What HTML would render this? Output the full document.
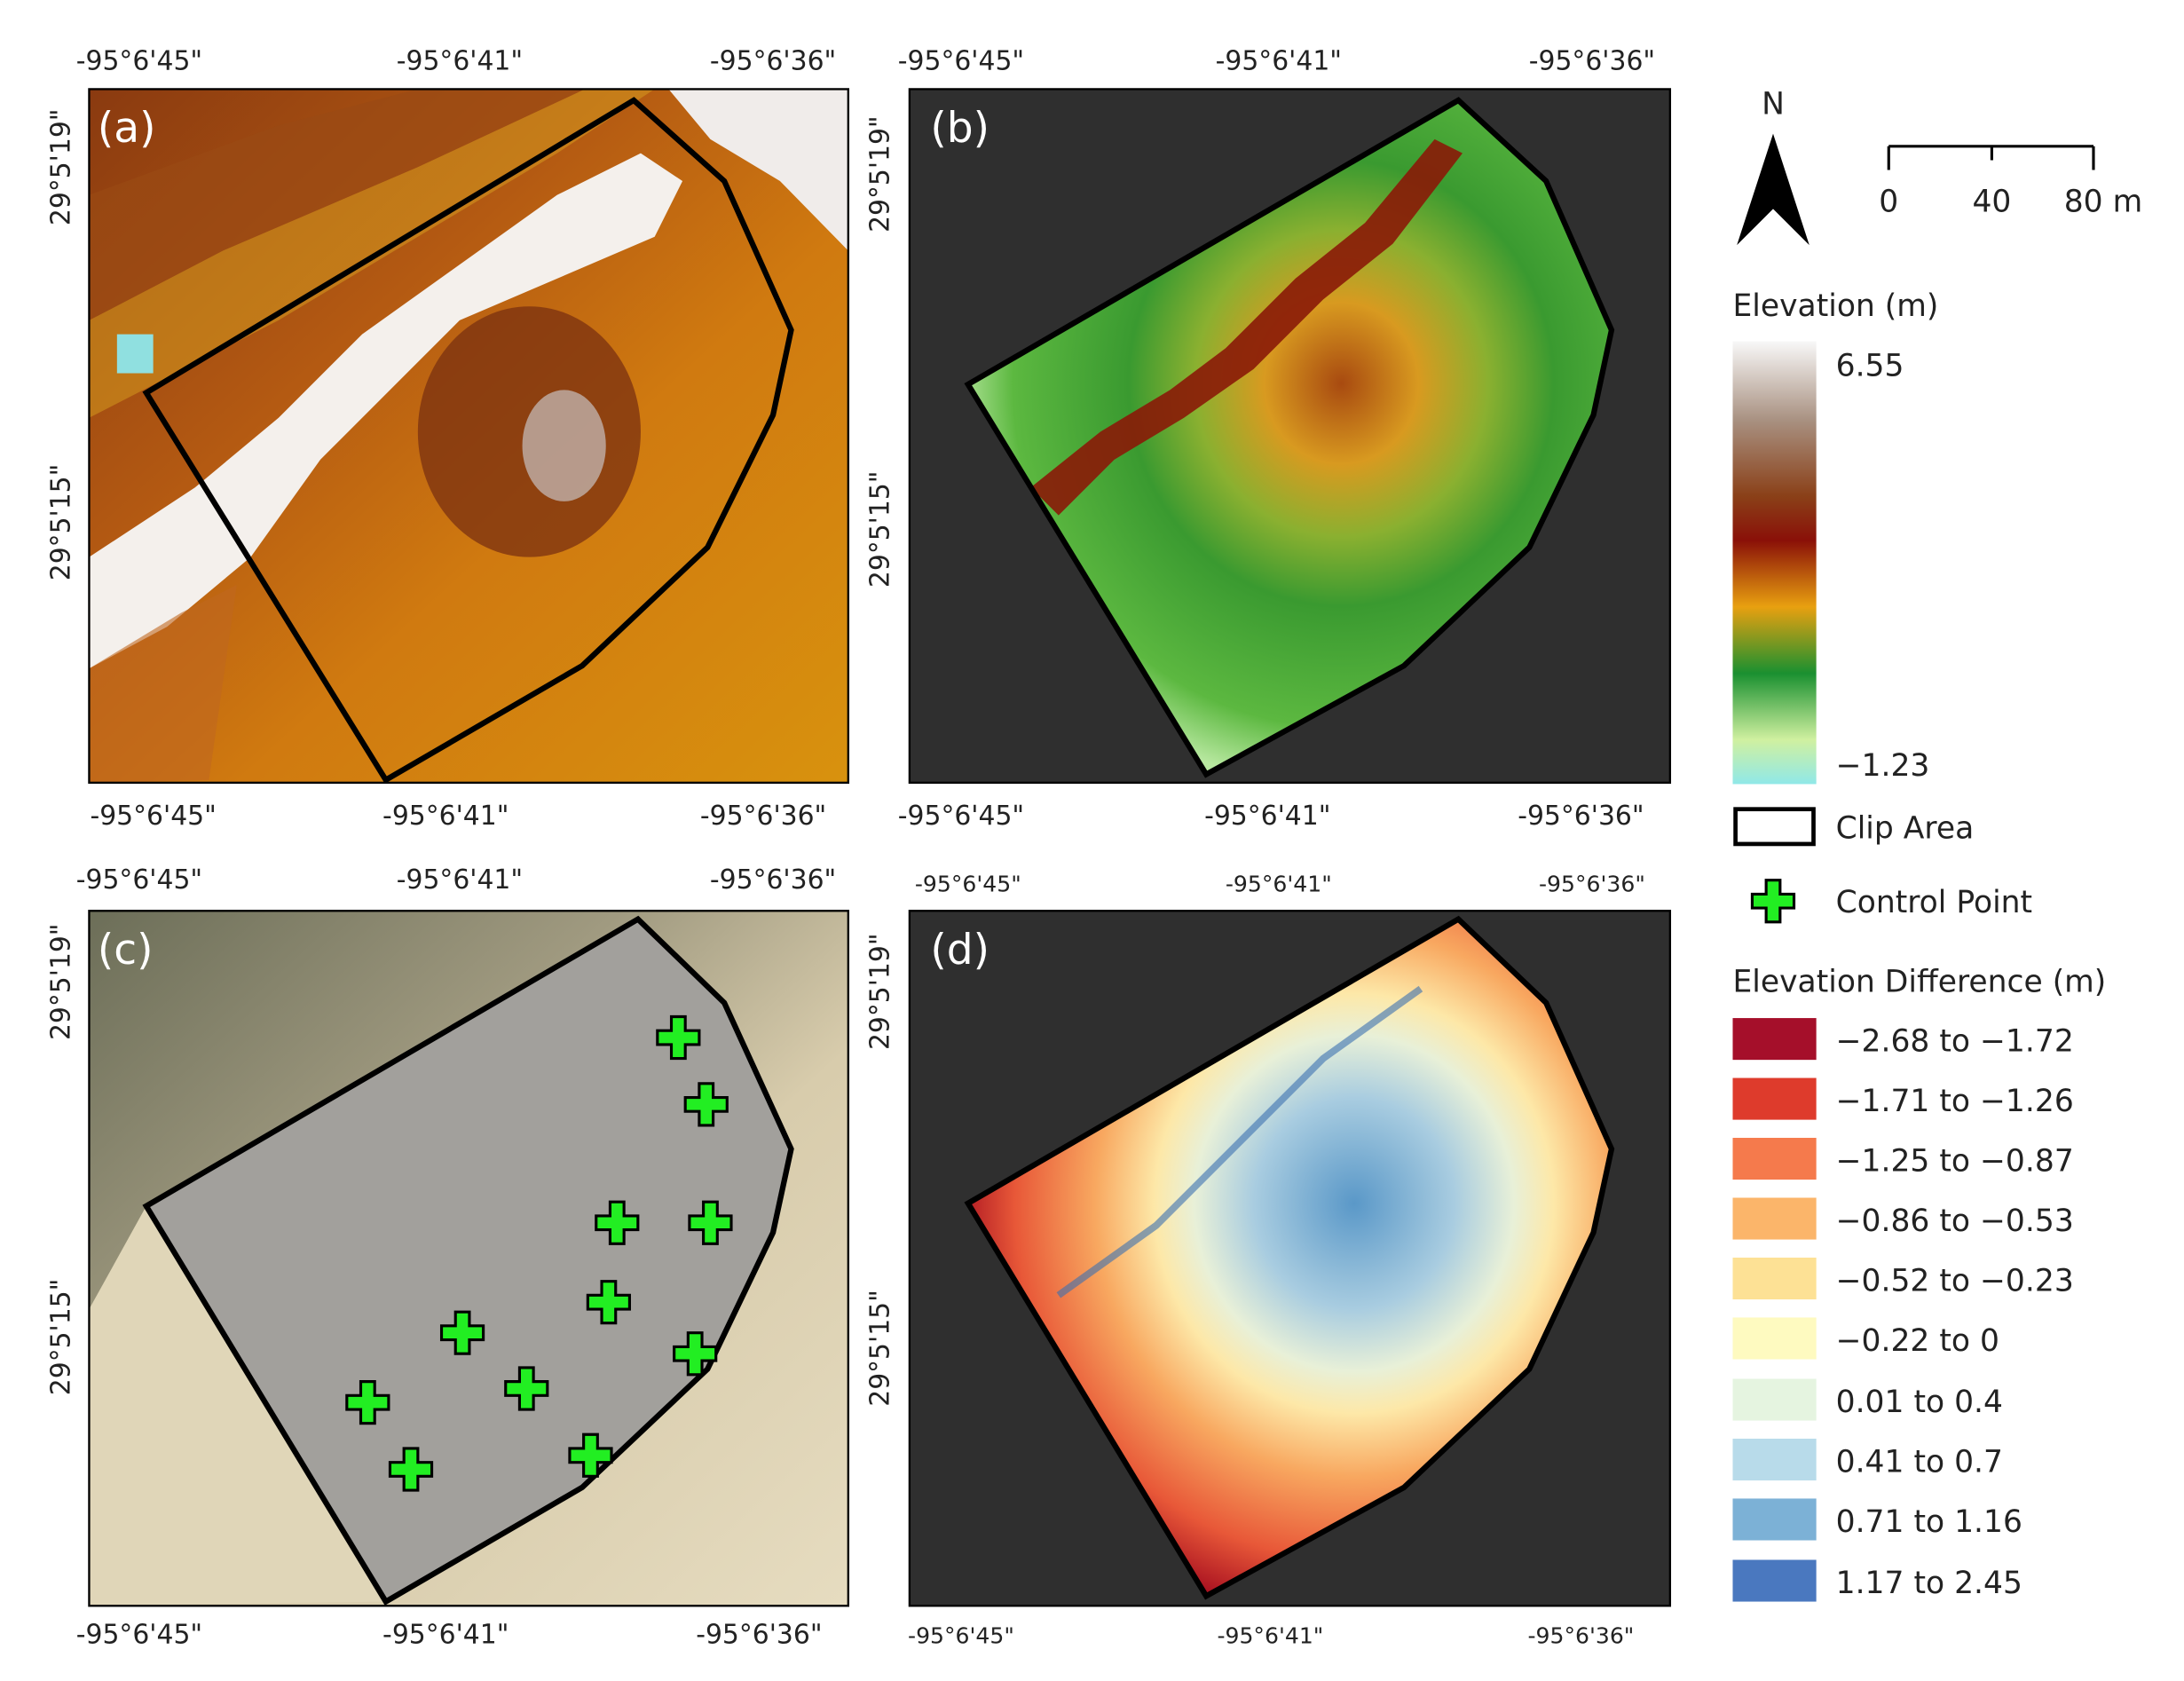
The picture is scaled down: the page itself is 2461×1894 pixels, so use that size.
<!DOCTYPE html>
<html><head><meta charset="utf-8"><style>
html,body{margin:0;padding:0;background:#fff}
svg{display:block}
text{font-family:"DejaVu Sans","Liberation Sans",sans-serif;fill:#222}
</style></head><body>
<svg width="2461" height="1894" viewBox="0 0 1568 1207" preserveAspectRatio="none" xmlns="http://www.w3.org/2000/svg">
<defs>
<linearGradient id="gA" x1="0" y1="0" x2="1" y2="1">
<stop offset="0" stop-color="#8a3a10"/><stop offset="0.35" stop-color="#b45a12"/><stop offset="0.6" stop-color="#d07a10"/><stop offset="1" stop-color="#d8920e"/></linearGradient>
<radialGradient id="gB" cx="0.58" cy="0.42" r="0.6">
<stop offset="0" stop-color="#a84a10"/><stop offset="0.2" stop-color="#d89a20"/><stop offset="0.38" stop-color="#8ab030"/><stop offset="0.55" stop-color="#3a9a30"/><stop offset="0.85" stop-color="#5cb840"/><stop offset="1" stop-color="#b8e8a0"/></radialGradient>
<radialGradient id="gD" cx="0.6" cy="0.42" r="0.62">
<stop offset="0" stop-color="#5a98c8"/><stop offset="0.25" stop-color="#a8cce0"/><stop offset="0.4" stop-color="#e8f0d8"/><stop offset="0.5" stop-color="#fde8a8"/><stop offset="0.65" stop-color="#f8a860"/><stop offset="0.85" stop-color="#e85838"/><stop offset="1" stop-color="#a81020"/></radialGradient>
<linearGradient id="gE" x1="0" y1="0" x2="0" y2="1">
<stop offset="0" stop-color="#f8f8f8"/><stop offset="0.18" stop-color="#a89080"/><stop offset="0.35" stop-color="#8a4018"/><stop offset="0.45" stop-color="#8a1008"/><stop offset="0.6" stop-color="#e8a010"/><stop offset="0.75" stop-color="#1a9030"/><stop offset="0.9" stop-color="#d0f0a0"/><stop offset="1" stop-color="#90e8e8"/></linearGradient>
<linearGradient id="gC" x1="0" y1="0" x2="1" y2="1">
<stop offset="0" stop-color="#6c6e58"/><stop offset="0.35" stop-color="#a09a80"/><stop offset="0.6" stop-color="#d8ccac"/><stop offset="1" stop-color="#e6dcc0"/></linearGradient>
</defs>

<!-- panel a -->
<rect x="64" y="64" width="545" height="498" fill="url(#gA)"/>
<path d="M64,140 L200,90 L300,64 L420,64 L300,120 L160,180 L64,230Z" fill="#9a4a14" opacity="0.7"/>
<path d="M64,230 L160,180 L300,120 L420,64 L470,64 L400,110 L300,170 L200,230 L64,300Z" fill="#d8a020" opacity="0.5"/>
<path d="M64,400 L140,350 L200,300 L260,240 L330,190 L400,140 L460,110 L490,130 L470,170 L400,200 L330,230 L280,280 L230,330 L180,400 L120,450 L64,480Z" fill="#f4f0ec"/>
<path d="M480,64 L609,64 L609,180 L560,130 L510,100Z" fill="#f0ecea"/>
<path d="M64,480 L130,440 L170,420 L150,560 L64,562Z" fill="#c06820" opacity="0.6"/>
<rect x="84" y="240" width="26" height="28" fill="#90e0e0"/>
<ellipse cx="380" cy="310" rx="80" ry="90" fill="#7a3010" opacity="0.75"/>
<ellipse cx="405" cy="320" rx="30" ry="40" fill="#c8c0c0" opacity="0.7"/>
<polygon points="455,72 520,130 568,237 555,298 508,393 418,478 277,560 105,282" fill="none" stroke="#000" stroke-width="4"/>
<rect x="64" y="64" width="545" height="498" fill="none" stroke="#000" stroke-width="1.5"/>
<text x="70" y="102" font-size="30" style="fill:#fff">(a)</text>

<!-- panel b -->
<rect x="653" y="64" width="546" height="498" fill="#2f2f2f"/>
<polygon points="1047,72 1110,130 1157,237 1144,298 1098,393 1008,478 866,556 695,276" fill="url(#gB)"/>
<path d="M740,350 L790,310 L840,280 L880,250 L930,200 L980,160 L1030,100 L1050,110 L1000,175 L950,215 L900,265 L850,300 L800,330 L760,370Z" fill="#8a1a08" opacity="0.9"/>
<polygon points="1047,72 1110,130 1157,237 1144,298 1098,393 1008,478 866,556 695,276" fill="none" stroke="#000" stroke-width="4"/>
<rect x="653" y="64" width="546" height="498" fill="none" stroke="#000" stroke-width="1.5"/>
<text x="668" y="102" font-size="30" style="fill:#fff">(b)</text>

<!-- panel c -->
<rect x="64" y="654" width="545" height="499" fill="url(#gC)"/>
<path d="M64,940 L105,866 L200,1020 L277,1150 L64,1153Z" fill="#e0d6b8"/>
<polygon points="458,660 520,720 568,825 555,885 508,983 418,1068 277,1150 105,866" fill="#a2a09c"/>
<polygon points="458,660 520,720 568,825 555,885 508,983 418,1068 277,1150 105,866" fill="none" stroke="#000" stroke-width="4"/>
<rect x="64" y="654" width="545" height="499" fill="none" stroke="#000" stroke-width="1.5"/>
<text x="70" y="692" font-size="30" style="fill:#fff">(c)</text>
<g fill="#22ee22" stroke="#000" stroke-width="2">
<path id="cp" d="M-5,-15h10v10h10v10h-10v10h-10v-10h-10v-10h10z" transform="translate(487,745)"/>
<use href="#cp" transform="translate(20,48)"/>
<use href="#cp" transform="translate(-44,133)"/>
<use href="#cp" transform="translate(23,133)"/>
<use href="#cp" transform="translate(-50,190)"/>
<use href="#cp" transform="translate(-155,212)"/>
<use href="#cp" transform="translate(12,227)"/>
<use href="#cp" transform="translate(-109,252)"/>
<use href="#cp" transform="translate(-223,262)"/>
<use href="#cp" transform="translate(-63,300)"/>
<use href="#cp" transform="translate(-192,310)"/>
</g>

<!-- panel d -->
<rect x="653" y="654" width="546" height="499" fill="#2f2f2f"/>
<polygon points="1047,660 1110,720 1157,825 1144,885 1098,983 1008,1068 866,1146 695,864" fill="url(#gD)"/>
<path d="M760,930 L830,880 L890,820 L950,760 L1020,710" stroke="#3a70b0" stroke-width="5" fill="none" opacity="0.6"/>
<polygon points="1047,660 1110,720 1157,825 1144,885 1098,983 1008,1068 866,1146 695,864" fill="none" stroke="#000" stroke-width="4"/>
<rect x="653" y="654" width="546" height="499" fill="none" stroke="#000" stroke-width="1.5"/>
<text x="668" y="692" font-size="30" style="fill:#fff">(d)</text>

<!-- tick labels -->
<g font-size="19" text-anchor="middle">
<text x="100" y="50">-95°6'45"</text><text x="330" y="50">-95°6'41"</text><text x="555" y="50">-95°6'36"</text>
<text x="110" y="592">-95°6'45"</text><text x="320" y="592">-95°6'41"</text><text x="548" y="592">-95°6'36"</text>
<text x="690" y="50">-95°6'45"</text><text x="918" y="50">-95°6'41"</text><text x="1143" y="50">-95°6'36"</text>
<text x="690" y="592">-95°6'45"</text><text x="910" y="592">-95°6'41"</text><text x="1135" y="592">-95°6'36"</text>
<text x="100" y="638">-95°6'45"</text><text x="330" y="638">-95°6'41"</text><text x="555" y="638">-95°6'36"</text>
<text x="100" y="1180">-95°6'45"</text><text x="320" y="1180">-95°6'41"</text><text x="545" y="1180">-95°6'36"</text>
<text x="695" y="640" font-size="16">-95°6'45"</text><text x="918" y="640" font-size="16">-95°6'41"</text><text x="1143" y="640" font-size="16">-95°6'36"</text>
<text x="690" y="1180" font-size="16">-95°6'45"</text><text x="912" y="1180" font-size="16">-95°6'41"</text><text x="1135" y="1180" font-size="16">-95°6'36"</text>
<text transform="translate(50,120) rotate(-90)">29°5'19"</text>
<text transform="translate(50,375) rotate(-90)">29°5'15"</text>
<text transform="translate(638,125) rotate(-90)">29°5'19"</text>
<text transform="translate(638,380) rotate(-90)">29°5'15"</text>
<text transform="translate(50,705) rotate(-90)">29°5'19"</text>
<text transform="translate(50,960) rotate(-90)">29°5'15"</text>
<text transform="translate(638,712) rotate(-90)">29°5'19"</text>
<text transform="translate(638,968) rotate(-90)">29°5'15"</text>
</g>

<!-- north arrow & scale -->
<text x="1273" y="82" font-size="22" text-anchor="middle" font-family="Liberation Serif">N</text>
<polygon points="1273,96 1299,176 1273,150 1247,176" fill="#000"/>
<path d="M1356,122V105M1356,105H1503M1430,105V115M1503,105V122" stroke="#000" stroke-width="2" fill="none"/>
<g font-size="22" text-anchor="middle"><text x="1356" y="152">0</text><text x="1430" y="152">40</text><text x="1510" y="152">80 m</text></g>

<!-- elevation legend -->
<text x="1244" y="227" font-size="22">Elevation (m)</text>
<rect x="1244" y="245" width="60" height="318" fill="url(#gE)"/>
<text x="1318" y="270" font-size="22">6.55</text>
<text x="1318" y="557" font-size="22">−1.23</text>
<rect x="1246" y="581" width="56" height="25" fill="none" stroke="#000" stroke-width="3"/>
<text x="1318" y="602" font-size="22">Clip Area</text>
<path d="M-5,-15h10v10h10v10h-10v10h-10v-10h-10v-10h10z" transform="translate(1273,647)" fill="#22ee22" stroke="#000" stroke-width="2"/>
<text x="1318" y="655" font-size="22">Control Point</text>
<text x="1244" y="712" font-size="22">Elevation Difference (m)</text>
<g font-size="22">
<rect x="1244" y="731" width="60" height="30" fill="#a50f2a"/><text x="1318" y="755">−2.68 to −1.72</text>
<rect x="1244" y="774" width="60" height="30" fill="#de3b2c"/><text x="1318" y="798">−1.71 to −1.26</text>
<rect x="1244" y="817" width="60" height="30" fill="#f57a4c"/><text x="1318" y="841">−1.25 to −0.87</text>
<rect x="1244" y="860" width="60" height="30" fill="#fbb56a"/><text x="1318" y="884">−0.86 to −0.53</text>
<rect x="1244" y="903" width="60" height="30" fill="#fde195"/><text x="1318" y="927">−0.52 to −0.23</text>
<rect x="1244" y="946" width="60" height="30" fill="#fefac0"/><text x="1318" y="970">−0.22 to 0</text>
<rect x="1244" y="990" width="60" height="30" fill="#e5f4e0"/><text x="1318" y="1014">0.01 to 0.4</text>
<rect x="1244" y="1033" width="60" height="30" fill="#b8dbea"/><text x="1318" y="1057">0.41 to 0.7</text>
<rect x="1244" y="1076" width="60" height="30" fill="#7cb1d6"/><text x="1318" y="1100">0.71 to 1.16</text>
<rect x="1244" y="1120" width="60" height="30" fill="#4a78bf"/><text x="1318" y="1144">1.17 to 2.45</text>
</g>
</svg>
</body></html>
